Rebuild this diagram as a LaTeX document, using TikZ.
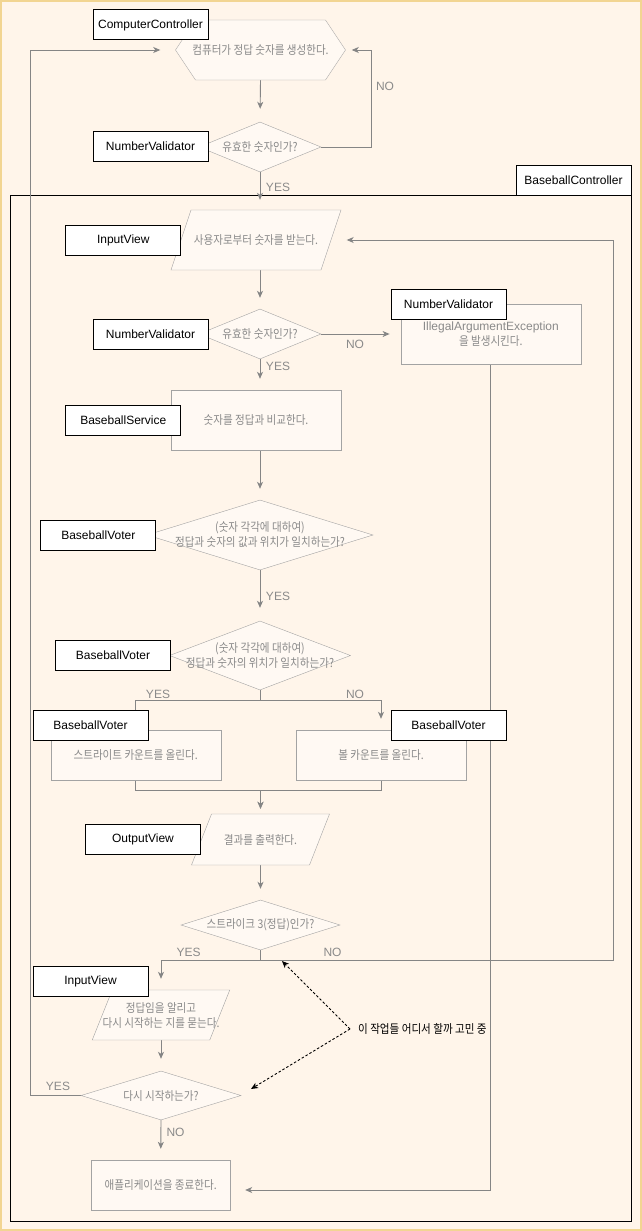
\documentclass[tikz,border=0pt]{standalone}
\usepackage{fontspec}
\setmainfont{Liberation Sans}
\newfontfamily\krfont[FakeStretch=0.88]{Noto Sans CJK KR}
\usetikzlibrary{shapes.geometric, shapes.symbols, backgrounds, arrows.meta}
\definecolor{canvas}{HTML}{FFF5EA}
\definecolor{frame}{HTML}{F2D592}
\definecolor{shapefill}{HTML}{FFF9F3}
\definecolor{shapeline}{HTML}{A3A3A3}
\definecolor{shapetext}{HTML}{8A8A8A}
\definecolor{linegray}{HTML}{858585}

\begin{document}
\begin{tikzpicture}
    [x=1pt, y=-1pt,
    lsty/.style={draw=black, line width=1pt, fill=white, inner sep=0pt, minimum width=115pt, minimum height=30pt, font=\fontsize{12}{14}\selectfont},
    ksty/.style={text=shapetext, inner sep=0pt, align=center, font=\krfont\fontsize{12}{15}\selectfont},
    hsty/.style={signal, signal to=west and east, signal pointer angle=112.62, draw=shapeline, fill=shapefill, inner sep=0pt},
    dsty/.style={diamond, draw=shapeline, fill=shapefill, inner sep=0pt},
    psty/.style={trapezium, draw=shapeline, fill=shapefill},
    rsty/.style={rectangle, draw=shapeline, fill=shapefill, inner sep=0pt, text=shapetext, align=center, font=\krfont\fontsize{12}{15}\selectfont},
    esty/.style={text=shapetext, inner sep=0pt, font=\fontsize{12}{14}\selectfont},
    asty/.style={-{Stealth[length=7pt, width=6pt, inset=2pt]}, draw=linegray, line width=0.9pt},
    qsty/.style={-{Stealth[length=7pt, width=6pt, inset=2pt]}, draw=black, dash pattern=on 2.5pt off 2pt, line width=0.9pt}]
    \useasboundingbox (0,0) rectangle (642,1231);
    % shapes
    \node[hsty, minimum width=170pt, minimum height=60pt, label={[ksty]center:컴퓨터가 정답 숫자를 생성한다.}] (gen) at (260.5,50) {};
    \node[dsty, minimum width=122pt, minimum height=50pt, label={[ksty]center:유효한 숫자인가?}] (valid) at (260,147) {};
    \node[psty, trapezium left angle=71.57, trapezium right angle=108.43, inner xsep=65pt, inner ysep=30pt, label={[ksty]center:사용자로부터 숫자를 받는다.}] (inp) at (256,240) {};
    \node[dsty, minimum width=122pt, minimum height=50pt, label={[ksty]center:유효한 숫자인가?}] (check) at (260,334) {};
    \node[rsty, minimum width=180pt, minimum height=60pt] (err) at (490.8,334) {{\rmfamily IllegalArgumentException}\\을 발생시킨다.};
    \node[rsty, minimum width=170pt, minimum height=60pt] (cmp) at (256,420) {숫자를 정답과 비교한다.};
    \node[dsty, minimum width=226pt, minimum height=70pt, label={[ksty]center:(숫자 각각에 대하여)\\정답과 숫자의 값과 위치가 일치하는가?}] (votea) at (260,535) {};
    \node[dsty, minimum width=181pt, minimum height=69pt, label={[ksty]center:(숫자 각각에 대하여)\\정답과 숫자의 위치가 일치하는가?}] (voteb) at (260,655.5) {};
    \node[rsty, minimum width=170pt, minimum height=50pt] (strike) at (135.7,755) {스트라이트 카운트를 올린다.};
    \node[rsty, minimum width=170pt, minimum height=50pt] (ball) at (381,755) {볼 카운트를 올린다.};
    \node[psty, trapezium left angle=68.59, trapezium right angle=111.41, inner xsep=49pt, inner ysep=25.5pt, label={[ksty]center:결과를 출력한다.}] (out) at (260.5,839.5) {};
    \node[dsty, minimum width=159pt, minimum height=50pt, label={[ksty]center:스트라이크 3(정답)인가?}] (done) at (260.5,925) {};
    \node[psty, trapezium left angle=68.2, trapezium right angle=111.8, inner xsep=48.75pt, inner ysep=25pt, label={[ksty]center:정답임을 알리고\\다시 시작하는 지를 묻는다.}] (ask) at (161,1015) {};
    \node[dsty, minimum width=160pt, minimum height=49pt, label={[ksty]center:다시 시작하는가?}] (again) at (161,1095.5) {};
    \node[rsty, minimum width=138.6pt, minimum height=50pt] (quit) at (160.7,1185) {애플리케이션을 종료한다.};
    % class labels
    \node[lsty] (cc)  at (150.5,25)  {ComputerController};
    \node[lsty] (nva) at (150.5,146) {NumberValidator};
    \node[lsty] (bc)  at (573.5,180) {BaseballController};
    \node[lsty] (iva) at (123.3,240) {InputView};
    \node[lsty] (nvb) at (150.5,334) {NumberValidator};
    \node[lsty] (nvc) at (448.5,304) {NumberValidator};
    \node[lsty] (bs)  at (123.3,420) {BaseballService};
    \node[lsty] (bva) at (98.3,535)  {BaseballVoter};
    \node[lsty] (bvb) at (113,655)   {BaseballVoter};
    \node[lsty] (bvc) at (90.5,725)  {BaseballVoter};
    \node[lsty] (bvd) at (448.5,725) {BaseballVoter};
    \node[lsty] (ov)  at (143,839.5) {OutputView};
    \node[lsty] (ivb) at (90.5,981)  {InputView};
    % branch labels
    \node[esty] (no1)  at (385,86)     {NO};
    \node[esty] (yes1) at (278,187)    {YES};
    \node[esty] (no2)  at (355,344)    {NO};
    \node[esty] (yes2) at (278,366)    {YES};
    \node[esty] (yes3) at (278,596)    {YES};
    \node[esty] (yes4) at (158,694)    {YES};
    \node[esty] (no3)  at (355,694)    {NO};
    \node[esty] (yes5) at (188.6,952)  {YES};
    \node[esty] (no4)  at (332.5,952)  {NO};
    \node[esty] (yes6) at (58,1086)    {YES};
    \node[esty] (no5)  at (175.5,1132) {NO};
    % note
    \node[ksty, text=black, anchor=west, inner xsep=8pt] (note) at (350,1029) {이 작업들 어디서 할까 고민 중};
    \coordinate (qa) at (282,961);
    \coordinate (qb) at (251,1089);
    \begin{scope}[on background layer]
        \fill[canvas] (0,0) rectangle (642,1231);
        \draw[frame, line width=2pt] (1,1) rectangle (641,1230);
        \node[draw=black, line width=1pt, minimum width=621pt, minimum height=1026pt] (ctl) at (320.5,708) {};
        % flow
        \draw[asty, shorten >=13pt] (gen.south) -- (valid.north);
        \draw[asty, shorten >=6pt] (valid.east) -- ++(50,0) |- (gen.east);
        \draw[asty, shorten >=10pt] (valid.south) -- (valid.south |- inp.north);
        \draw[asty, shorten >=11pt] (inp.south -| check.north) -- (check.north);
        \draw[asty, shorten >=11pt] (check.east) -- (err.west);
        \draw[asty, shorten >=11pt] (check.south) -- (check.south |- cmp.north);
        \draw[asty, shorten >=11pt] (cmp.south -| votea.north) -- (votea.north);
        \draw[asty, shorten >=13pt] (votea.south) -- (voteb.north);
        \draw[asty, shorten >=11pt] (voteb.south) -- ++(0,10) -| (strike.north);
        \draw[asty, shorten >=11pt] (voteb.south) -- ++(0,10) -| (ball.north);
        \draw[asty, shorten >=5pt] (strike.south) -- ++(0,10) -| (out.north);
        \draw[asty, shorten >=5pt] (ball.south) -- ++(0,10) -| (out.north);
        \draw[asty, shorten >=11pt] (out.south) -- (done.north);
        \draw[asty, shorten >=11pt] (done.south) -- ++(0,10) -| (ask.north);
        \draw[asty, shorten >=15.5pt] (done.south) -- ++(0,10) -- ++(353,0) |- (inp.east);
        \draw[asty, shorten >=12pt] (ask.south -| again.north) -- (again.north);
        \draw[asty, shorten >=15pt] (again.west) -- ++(-50,0) |- (gen.west);
        \draw[asty, shorten >=11pt] (again.south) -- (quit.north);
        \draw[asty, shorten >=15pt] (err.south) |- ([yshift=-5pt]quit.east);
        \draw[qsty] (note.west) -- (qa);
        \draw[qsty] (note.west) -- (qb);
    \end{scope}
\end{tikzpicture}
\end{document}
